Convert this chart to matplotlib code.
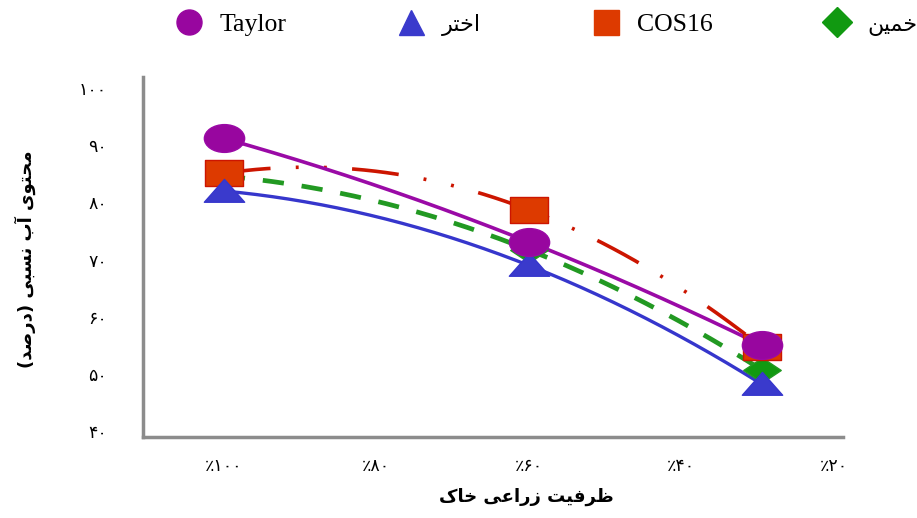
import matplotlib
matplotlib.use('Agg')
import matplotlib.pyplot as plt
from matplotlib.path import Path
from matplotlib.transforms import Affine2D
from matplotlib.lines import Line2D
import numpy as np

# matplotlib does not shape Arabic script, so the Persian strings are written
# with presentation forms, already in visual (left to right) order
FA_KHOMEIN = '\uFEE6\uFEF4\uFEE4\uFEA7'          # خمین
FA_AKHTAR = '\uFEAE\uFE98\uFEA7\uFE8D'           # اختر
Y_TITLE = ('(\uFEAA\uFEBB\uFEAD\uFEA9) \uFEF0\uFE92\uFEB4\uFEE7 '
           '\uFE8F\uFE81 \uFEEF\uFEEE\uFE98\uFEA4\uFEE3')   # محتوی آب نسبی (درصد)
X_TITLE = ('\uFB8E\uFE8E\uFEA7 \uFEF0\uFECB\uFE8D\uFEAD\uFEAF '
           '\uFE96\uFEF4\uFED3\uFEAE\uFEC7')                # ظرفیت زراعی خاک

# data
fc_labels = ['٪۱۰۰', '٪۸۰', '٪۶۰', '٪۴۰', '٪۲۰']
y_ticks = [40, 50, 60, 70, 80, 90, 100]
y_tick_labels = ['۴۰', '۵۰', '۶۰', '۷۰', '۸۰', '۹۰', '۱۰۰']
x_pos = [0, 2, 3.53]          # where the measured points sit on the category axis
taylor = [91.2, 73.1, 55.0]
akhtar = [82.0, 69.0, 48.2]
cos16 = [85.1, 78.7, 54.7]
khomein = [84.6, 71.7, 50.7]


def squashed(verts, sx):
	return Affine2D().scale(sx, 1).transform_path(Path(verts, closed=True))

ell = Affine2D().scale(1.45, 1).transform_path(Path.unit_circle())
rect = squashed([(-1, -1), (1, -1), (1, 1), (-1, 1), (-1, -1)], 1.4)
tri = squashed([(-1, -0.8), (1, -0.8), (0, 0.9), (-1, -0.8)], 1.5)
diam = squashed([(0, -1), (1, 0), (0, 1), (-1, 0), (0, -1)], 1.5)

series = [
	# name, values, line colour, marker face, marker, marker size, legend marker, linestyle, lw, marker z
	('COS16', cos16, '#cc1500', '#dd3a00', rect, 27, 's', (0, (13, 7, 0.8, 7, 0.8, 7)), 2.6, 3.2),
	(FA_KHOMEIN, khomein, '#229922', '#119911', diam, 27, 'D', (0, (4.5, 3.8)), 3.4, 3.1),
	(FA_AKHTAR, akhtar, '#3636cc', '#3a3acc', tri, 29, '^', '-', 2.4, 3.3),
	('Taylor', taylor, '#9a0aa6', '#98069f', ell, 29, 'o', '-', 2.6, 3.4),
]

fig = plt.figure(figsize=(9.17, 5.18), dpi=100)
ax = fig.add_axes([0.156, 0.156, 0.763, 0.695])

xs = np.linspace(x_pos[0], x_pos[-1], 200)
for name, vals, lc, mc, mk, ms, lmk, ls, lw, mz in series:
	coef = np.polyfit(x_pos, vals, 2)
	ax.plot(xs, np.polyval(coef, xs), color=lc, linestyle=ls, linewidth=lw, zorder=2)
	ax.plot(x_pos, vals, linestyle='none', marker=mk, markersize=ms,
			markerfacecolor=mc, markeredgecolor=lc, markeredgewidth=1, zorder=mz)

ax.set_xlim(-0.53, 4.06)
ax.set_ylim(38.95, 101.9)
ax.set_xticks(range(len(fc_labels)))
ax.set_xticklabels(fc_labels, fontsize=12.5)
ax.set_yticks(y_ticks)
ax.set_yticklabels(y_tick_labels, fontsize=12.5)
ax.tick_params(axis='x', length=0, pad=14)
ax.tick_params(axis='y', length=0, pad=26)
for s in ['top', 'right']:
	ax.spines[s].set_visible(False)
for s in ['left', 'bottom']:
	ax.spines[s].set_color('#8c8c8c')
	ax.spines[s].set_linewidth(2.5)

fig.text(0.028, 0.5, Y_TITLE, rotation=90, fontsize=13, fontweight='bold',
		 ha='center', va='center')
fig.text(0.574, 0.04, X_TITLE, fontsize=13, fontweight='bold', ha='center', va='center')

# legend: markers only, in the order shown on top of the picture
order = [3, 2, 0, 1]
handles = []
for i in order:
	name, vals, lc, mc, mk, ms, lmk, ls, lw, mz = series[i]
	handles.append(Line2D([], [], linestyle='none', marker=lmk,
						  markersize=15 if lmk == 'D' else 18,
						  markerfacecolor=mc, markeredgecolor=mc, label=name))
leg = fig.legend(handles=handles, loc='center left', bbox_to_anchor=(0.189, 0.953),
				 ncol=4, frameon=False, borderpad=0, borderaxespad=0,
				 handlelength=1.2, handletextpad=0.6, columnspacing=4.25,
				 prop={'family': ['Liberation Serif', 'DejaVu Sans'], 'size': 18.5})
# the Persian names come from DejaVu, which runs wider than the serif
for t in leg.get_texts():
	if t.get_text() in (FA_AKHTAR, FA_KHOMEIN):
		t.set_fontsize(16)

fig.savefig('out.png', dpi=100)
